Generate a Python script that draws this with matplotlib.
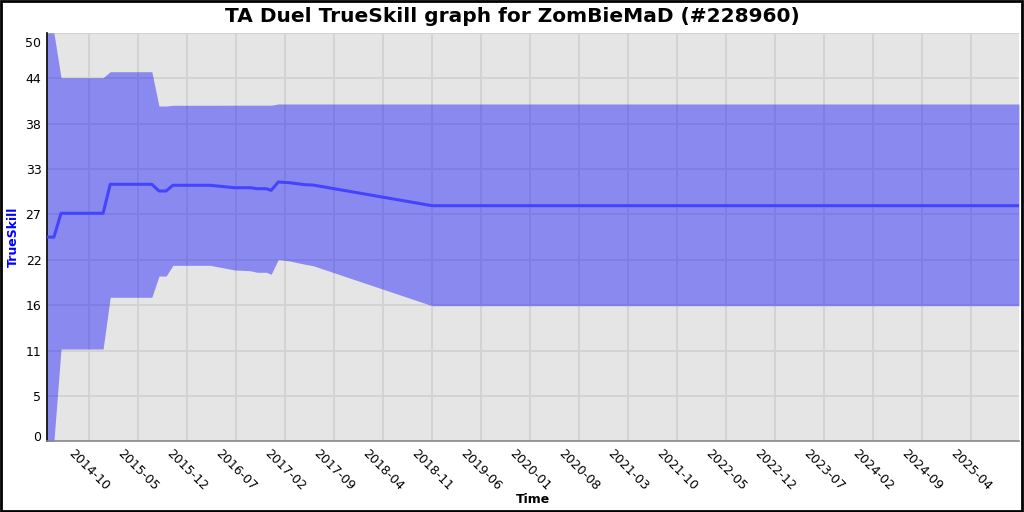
import matplotlib
matplotlib.use("Agg")
import matplotlib.pyplot as plt
import matplotlib.transforms as mtransforms
import numpy as np
import pandas as pd

# ---- data ----
dates = ["2014-04-01", "2014-05-01", "2014-06-01", "2014-12-01", "2015-01-01",
         "2015-07-01", "2015-08-01", "2015-09-01", "2015-10-01", "2016-03-10",
         "2016-06-25", "2016-09-01", "2016-10-01", "2016-11-10", "2016-12-01",
         "2017-01-01", "2017-02-20", "2017-04-27", "2017-06-01", "2018-11-01",
         "2025-10-28"]
mean = [25.0, 25.0, 27.92, 27.92, 31.47, 31.47, 30.65, 30.65, 31.35, 31.35,
        31.05, 31.05, 30.93, 30.93, 30.73, 31.75, 31.66, 31.42, 31.38, 28.85, 28.85]
lower = [0.0, 0.0, 11.31, 11.31, 17.64, 17.64, 20.24, 20.24, 21.55, 21.55,
         20.98, 20.89, 20.70, 20.70, 20.45, 22.26, 22.08, 21.68, 21.51, 16.61, 16.61]
upper = [50.0, 50.0, 44.52, 44.52, 45.25, 45.25, 41.05, 41.05, 41.14, 41.14,
         41.15, 41.15, 41.15, 41.15, 41.15, 41.3, 41.3, 41.3, 41.3, 41.3, 41.3]
xtick_labels = ["2014-10", "2015-05", "2015-12", "2016-07", "2017-02", "2017-09",
                "2018-04", "2018-11", "2019-06", "2020-01", "2020-08", "2021-03",
                "2021-10", "2022-05", "2022-12", "2023-07", "2024-02", "2024-09",
                "2025-04"]
ytick_values = list(np.linspace(0, 50, 10))
ytick_labels = ["0", "5", "11", "16", "22", "27", "33", "38", "44", "50"]

x = pd.to_datetime(dates)

fig = plt.figure(figsize=(10.24, 5.12), dpi=100)
fig.patch.set_facecolor("white")
ax = fig.add_axes([47/1024, 1-441.4/512, (1019-47)/1024, (441.4-32.9)/512])
ax.set_facecolor("#e5e5e5")

ax.grid(True, color="#d2d2d2", linewidth=1.3)
ax.set_axisbelow(True)

ax.fill_between(x, lower, upper, color="#0000ff", alpha=0.4, linewidth=0, zorder=2)
ax.plot(x, mean, color="#4444ff", linewidth=2.2, zorder=3)

ax.set_xlim(x[0], x[-1])
ax.set_ylim(0, 50)

ax.set_yticks(ytick_values)
ax.set_yticklabels(ytick_labels, fontsize=9)

xt = pd.to_datetime([s + "-01" for s in xtick_labels])
ax.set_xticks(xt)
ax.set_xticklabels(xtick_labels, fontsize=9, rotation=-45, ha="center", va="top")
ax.tick_params(axis="y", length=0, pad=4)
ax.tick_params(axis="x", length=0, pad=4)

# end labels nudged inside the plot, as in the reference
ticks = ax.yaxis.get_major_ticks()
lab0 = ticks[0].label1
lab0.set_transform(lab0.get_transform() +
                   mtransforms.ScaledTranslation(0, 0.057, fig.dpi_scale_trans))
labN = ticks[-1].label1
labN.set_transform(labN.get_transform() +
                   mtransforms.ScaledTranslation(0, -0.088, fig.dpi_scale_trans))

for s in ["top", "right"]:
    ax.spines[s].set_visible(False)
ax.spines["left"].set_color("black")
ax.spines["left"].set_linewidth(1.2)
ax.spines["bottom"].set_color("#888888")
ax.spines["bottom"].set_linewidth(1.2)

fig.text(0.5, 1 - 17/512, "TA Duel TrueSkill graph for ZomBieMaD (#228960)",
         fontsize=14.5, fontweight="bold", ha="center", va="center")
ax.set_ylabel("TrueSkill", color="#0000ff", fontsize=9, fontweight="bold")
ax.yaxis.set_label_coords(-0.028, 0.5)
ax.set_xlabel("Time", fontsize=9, fontweight="bold")
ax.xaxis.set_label_coords(0.5, -0.142)
ax.xaxis.label.set_va("center")

# figure border
fig.add_artist(plt.Rectangle((0.001, 0.002), 0.997, 0.996, transform=fig.transFigure,
                             fill=False, edgecolor="black", linewidth=2))

fig.savefig("out.png", dpi=100)
